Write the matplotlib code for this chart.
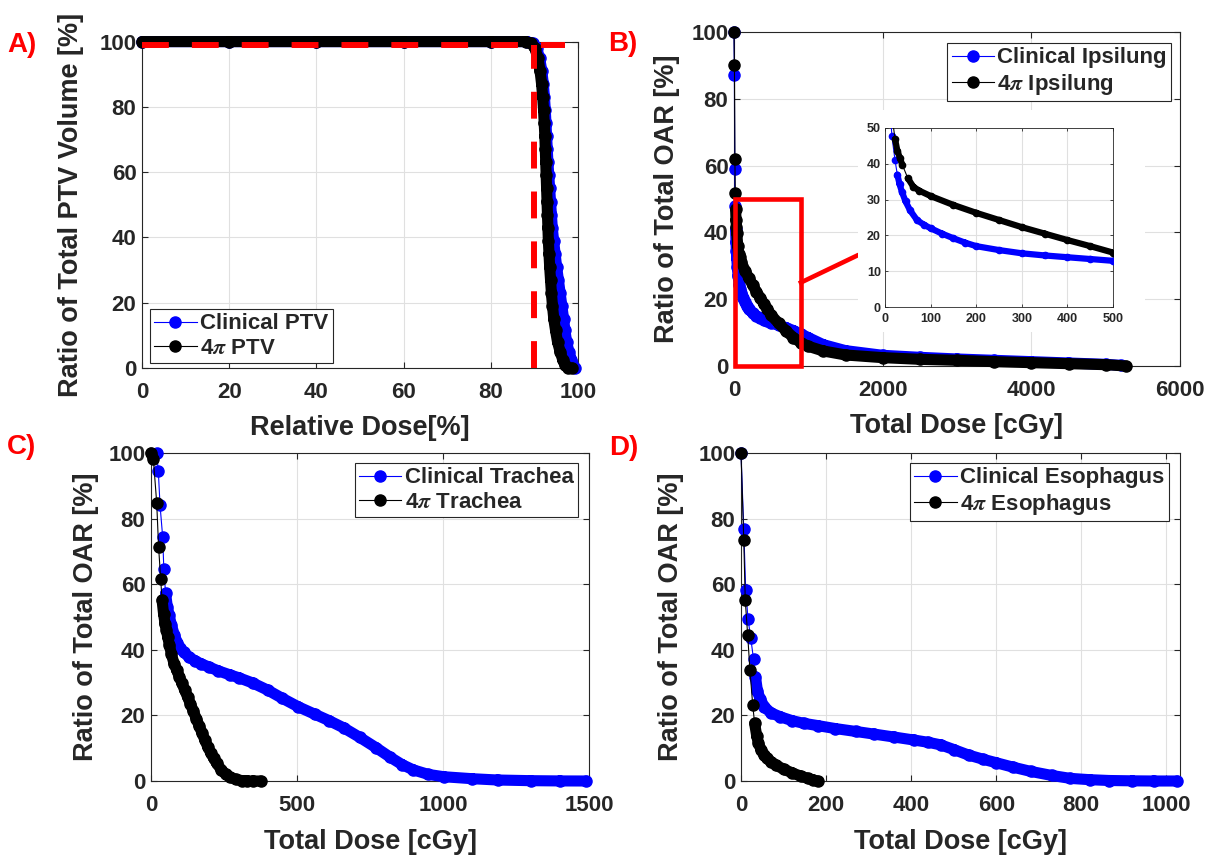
# DVH comparison figure: clinical plan vs 4pi plan (PTV, ipsilateral lung, trachea, esophagus)

import numpy as np
import matplotlib
matplotlib.use('Agg')
import matplotlib.pyplot as plt
from matplotlib.patches import Rectangle

# ---------------- data ----------------

# A) PTV, relative dose [%] vs volume [%]
ptv_clin_dose = [0, 20, 40, 60, 80, 88.3, 89.6, 90.5, 91.2, 91.7, 92.05, 92.3, 92.5, 92.65, 92.8,
                 92.95, 93.1, 93.3, 93.5, 93.7, 93.9, 94.1, 94.4, 94.75, 95.1, 95.5, 95.9, 96.3,
                 96.7, 97.0, 97.4, 97.9, 98.5, 99.3]
ptv_clin_ratio = [100, 100, 100, 100, 100, 100, 99.5, 98, 95, 91, 87, 83, 79, 75, 71,
                  67, 63, 59, 55, 51, 47, 43, 39, 35, 31, 27, 23, 19,
                  15, 11.5, 8, 5, 2.5, 0]
ptv_4pi_dose = [0, 20, 40, 60, 80, 88.0, 89.2, 90.1, 90.8, 91.3, 91.65, 91.9, 92.1, 92.25, 92.4,
                92.5, 92.6, 92.7, 92.8, 92.9, 93.0, 93.1, 93.2, 93.35, 93.5, 93.7, 93.9, 94.15,
                94.45, 94.85, 95.3, 95.9, 96.5, 97.1, 97.8, 98.6]
ptv_4pi_ratio = [100, 100, 100, 100, 100, 100, 99.5, 98, 95, 91, 87, 83, 79, 75, 71,
                 67, 63, 59, 55, 51, 47, 43, 39, 35, 31, 27, 23, 19,
                 15, 11.5, 8, 5, 2.5, 0.8, 0.1, 0]
ptv_ref_dose = 90        # vertical red dashed line
ptv_ref_ratio = 99       # horizontal red dashed line
ptv_ref_end = 97

# B) Ipsilateral lung, total dose [cGy]
ipsi_clin_dose = [0, 5, 10, 15, 22, 27, 32, 37, 45, 55, 70, 85, 100, 125, 150, 175, 200, 250, 300,
                  350, 400, 450, 500, 600, 700, 800, 900, 1000, 1200, 1500, 2000, 2500, 3000,
                  3500, 4000, 4500, 5000, 5200]
ipsi_clin_ratio = [100, 87.2, 58.9, 47.8, 41.0, 37.0, 34.3, 32.2, 29.5, 27.0, 24.3, 23.0, 22.0,
                   20.5, 19.2, 18.0, 17.0, 15.9, 15.0, 14.4, 13.9, 13.4, 12.9, 12.2, 11.5, 10.6,
                   9.6, 8.5, 6.4, 4.6, 3.2, 2.6, 2.1, 1.7, 1.3, 0.9, 0.5, 0.2]
ipsi_4pi_dose = [0, 6, 12, 17, 22, 27, 33, 38, 50, 62, 75, 100, 150, 200, 250, 300, 350, 400,
                 450, 500, 600, 700, 800, 900, 1000, 1200, 1500, 2000, 2500, 3000, 3500, 4000,
                 4500, 5000, 5270]
ipsi_4pi_ratio = [100, 90, 62, 51.8, 46.9, 43.7, 41.5, 39.7, 36.0, 33.6, 32.5, 31.0, 28.5, 26.3,
                  24.3, 22.3, 20.5, 18.7, 17.0, 15.2, 12.8, 10.5, 8.5, 7.0, 5.9, 4.5, 3.3, 2.5,
                  2.0, 1.7, 1.3, 1.0, 0.7, 0.4, 0]
zoom_box_dose = [15, 900]
zoom_box_ratio = [0, 50]
connector_dose = [900, 1650]
connector_ratio = [25, 33]

# C) Trachea
trachea_clin_dose = [19.5, 25, 31, 40, 44, 50, 56, 62, 70, 80, 90, 100, 112, 130, 150, 170, 200,
                     230, 269, 300, 348, 400, 450, 505, 560, 610, 660, 715, 770, 820, 860, 898,
                     950, 1003, 1100, 1187, 1300, 1400, 1490]
trachea_clin_ratio = [100, 94.5, 84, 74.4, 64.5, 57.2, 53, 50.6, 47.5, 44.5, 42.2, 40.5, 39.3,
                      37.8, 36.7, 35.8, 34.7, 33.6, 32.4, 31.5, 29.9, 27.7, 25.2, 22.6, 20.4,
                      18.4, 16.2, 13.3, 10.2, 7.2, 5.0, 3.4, 2.0, 1.3, 0.7, 0.3, 0.1, 0.02, 0]
trachea_4pi_dose = [0, 8, 19.5, 26, 33, 38, 43, 48, 53, 57, 63, 70, 79, 88, 97, 106, 115, 125,
                    135, 145, 155, 165, 175, 185, 195, 205, 215, 225, 240, 256, 270, 290, 310,
                    330, 350, 375]
trachea_4pi_ratio = [100, 98.3, 84.8, 71.4, 61.7, 55.1, 51, 48, 46, 44, 41.5, 38.6, 35.8, 33.8,
                     31.8, 29.8, 27.8, 25.7, 23.5, 21.3, 19.0, 16.8, 14.6, 12.4, 10.3, 8.5, 6.9,
                     5.4, 3.5, 2.0, 1.2, 0.5, 0.15, 0.03, 0, 0]

# D) Esophagus
eso_clin_dose = [0, 6.5, 11, 16.6, 23, 29.5, 34, 38.7, 45, 55, 70, 92, 120, 147, 180, 221, 270,
                 313, 360, 406, 440, 470, 500, 535, 570, 599, 640, 682, 730, 774, 820, 866, 920,
                 970, 1025]
eso_clin_ratio = [100, 76.8, 58.2, 49.3, 43.5, 37.1, 31.8, 27.4, 25.0, 22.6, 20.8, 19.6, 18.4,
                  17.6, 16.9, 16.0, 15.1, 14.3, 13.4, 12.5, 11.8, 11.0, 9.6, 7.9, 6.6, 5.6, 4.2,
                  2.9, 1.7, 0.8, 0.4, 0.15, 0.05, 0, 0]
eso_4pi_dose = [0, 6.5, 10, 15.7, 21, 27.6, 32, 37, 41, 47, 54, 60, 70, 83, 100, 120, 140, 157,
                170, 180]
eso_4pi_ratio = [100, 73.6, 55.1, 44.5, 33.8, 23.1, 17.6, 13.7, 11.5, 9.6, 8.0, 7.0, 5.9, 4.8,
                 3.6, 2.5, 1.5, 0.8, 0.3, 0]

# ---------------- figure ----------------

plt.rcParams['font.family'] = ['Liberation Sans', 'DejaVu Sans']
plt.rcParams['font.weight'] = 'bold'
plt.rcParams['axes.labelweight'] = 'bold'
plt.rcParams['mathtext.fontset'] = 'stix'

W, H = 1214, 859
fig = plt.figure(figsize=(W / 100, H / 100), dpi=100)

TEXT = '#262626'
BLUE = '#0000ff'
BLACK = '#000000'


def px_axes(left, top, right, bottom):
    return fig.add_axes([left / W, 1 - bottom / H, (right - left) / W, (bottom - top) / H])


def style_axes(ax, xlim, ylim, xticks, yticks, size=16, ypad=4, xpad=10, ticklen=4, spine=0.8):
    ax.set_xlim(xlim)
    ax.set_ylim(ylim)
    ax.set_xticks(xticks)
    ax.set_yticks(yticks)
    ax.grid(True, color='#e0e0e0', lw=0.8)
    ax.set_axisbelow(True)
    ax.tick_params(direction='in', length=ticklen, width=spine, top=True, right=True,
                   labelsize=size, colors=TEXT)
    ax.tick_params(axis='y', pad=ypad)
    ax.tick_params(axis='x', pad=xpad)
    for s in ax.spines.values():
        s.set_color(TEXT)
        s.set_linewidth(spine)


def draw_dvh(ax, dose, ratio, color, ms, label=None, clip=False, gap=None):
    ax.plot(dose, ratio, '-', color=color, lw=0.8, marker='o', ms=ms, mfc=color, mec=color,
            label=label, clip_on=clip, zorder=3)
    # where MATLAB's markers overlap they read as one solid band
    pts = ax.transData.transform(np.column_stack([dose, ratio]))
    dy = np.abs(np.diff(pts[:, 1]))
    if gap is None:
        gap = 1.4 * ms * fig.dpi / 72
    bx, by = [], []
    for i in np.where(dy < gap)[0]:
        bx += [dose[i], dose[i + 1], np.nan]
        by += [ratio[i], ratio[i + 1], np.nan]
    ax.plot(bx, by, color=color, lw=ms, solid_capstyle='round', solid_joinstyle='round',
            clip_on=clip, zorder=3)


def add_legend(ax, loc, anchor):
    leg = ax.legend(loc=loc, bbox_to_anchor=anchor, fontsize=16, fancybox=False,
                    framealpha=1, edgecolor=TEXT, borderaxespad=0, handlelength=1.9,
                    handletextpad=0.15, borderpad=0.2, labelspacing=0.15)
    leg.get_frame().set_linewidth(0.8)
    for t in leg.get_texts():
        t.set_color(TEXT)
    leg.set_zorder(6)


def set_labels(ax, xlabel, ylabel, xpos, ypos):
    ax.set_xlabel(xlabel, fontsize=19.5, color=TEXT)
    ax.set_ylabel(ylabel, fontsize=19.5, color=TEXT)
    ax.xaxis.set_label_coords(0.5, xpos)
    ax.yaxis.set_label_coords(ypos, 0.5)


MS = 8

# A) PTV
axA = px_axes(142, 41.6, 578, 368)
style_axes(axA, (0, 100), (0, 100), range(0, 101, 20), range(0, 101, 20))
draw_dvh(axA, ptv_clin_dose, ptv_clin_ratio, BLUE, MS, 'Clinical PTV')
draw_dvh(axA, ptv_4pi_dose, ptv_4pi_ratio, BLACK, MS, r'4$\pi$ PTV')
axA.plot([0, ptv_ref_end], [ptv_ref_ratio, ptv_ref_ratio], color='red', lw=4.3,
         dashes=(4.5, 3.85), zorder=5, clip_on=False)
axA.plot([ptv_ref_dose, ptv_ref_dose], [0, ptv_ref_ratio], color='red', lw=4.3,
         dashes=(4.5, 3.85), zorder=5, clip_on=False)
add_legend(axA, 'lower left', (0.018, 0.015))
set_labels(axA, 'Relative Dose[%]', 'Ratio of Total PTV Volume [%]', -0.145, -0.132)

# B) Ipsilateral lung
axB = px_axes(734, 32, 1180, 366)
style_axes(axB, (0, 6000), (0, 100), range(0, 6001, 2000), range(0, 101, 20))
draw_dvh(axB, ipsi_clin_dose, ipsi_clin_ratio, BLUE, MS, 'Clinical Ipsilung')
draw_dvh(axB, ipsi_4pi_dose, ipsi_4pi_ratio, BLACK, MS, r'4$\pi$ Ipsilung')
axB.add_patch(Rectangle((zoom_box_dose[0], zoom_box_ratio[0]),
                        zoom_box_dose[1] - zoom_box_dose[0], zoom_box_ratio[1] - zoom_box_ratio[0],
                        fill=False, ec='red', lw=3.3, zorder=5, clip_on=False))
axB.plot(connector_dose, connector_ratio, color='red', lw=3.3, zorder=5)
add_legend(axB, 'upper right', (0.98, 0.967))
set_labels(axB, 'Total Dose [cGy]', 'Ratio of Total OAR [%]', -0.142, -0.121)

# white backing behind the inset and its tick labels
fig.add_artist(Rectangle((858 / W, 1 - 332 / H), (1145 - 858) / W, (332 - 110) / H,
                         transform=fig.transFigure, fc='white', ec='none', zorder=2))

axI = px_axes(885, 128, 1113, 307)
axI.set_zorder(5)
style_axes(axI, (0, 500), (0, 50), range(0, 501, 100), range(0, 51, 10),
           size=9, ypad=3, xpad=4, ticklen=2, spine=0.6)
draw_dvh(axI, ipsi_clin_dose, ipsi_clin_ratio, BLUE, 4.5, clip=True, gap=13)
draw_dvh(axI, ipsi_4pi_dose, ipsi_4pi_ratio, BLACK, 4.5, clip=True, gap=13)

# C) Trachea
axC = px_axes(151, 453, 589, 781)
style_axes(axC, (0, 1500), (0, 100), range(0, 1501, 500), range(0, 101, 20))
draw_dvh(axC, trachea_clin_dose, trachea_clin_ratio, BLUE, MS, 'Clinical Trachea')
draw_dvh(axC, trachea_4pi_dose, trachea_4pi_ratio, BLACK, MS, r'4$\pi$ Trachea')
add_legend(axC, 'upper right', (0.975, 0.970))
set_labels(axC, 'Total Dose [cGy]', 'Ratio of Total OAR [%]', -0.145, -0.119)

# D) Esophagus
axD = px_axes(741, 453, 1180, 781)
style_axes(axD, (0, 1032), (0, 100), range(0, 1001, 200), range(0, 101, 20))
draw_dvh(axD, eso_clin_dose, eso_clin_ratio, BLUE, MS, 'Clinical Esophagus')
draw_dvh(axD, eso_4pi_dose, eso_4pi_ratio, BLACK, MS, r'4$\pi$ Esophagus')
add_legend(axD, 'upper right', (0.974, 0.970))
set_labels(axD, 'Total Dose [cGy]', 'Ratio of Total OAR [%]', -0.145, -0.130)

# panel letters
for letter, (x, y) in {'A)': (22, 45), 'B)': (623, 44), 'C)': (22, 447), 'D)': (624, 448)}.items():
    fig.text(x / W, 1 - y / H, letter, color='red', fontsize=20, fontweight='bold',
             ha='center', va='center')

fig.savefig('out.png', dpi=100, facecolor='white')
